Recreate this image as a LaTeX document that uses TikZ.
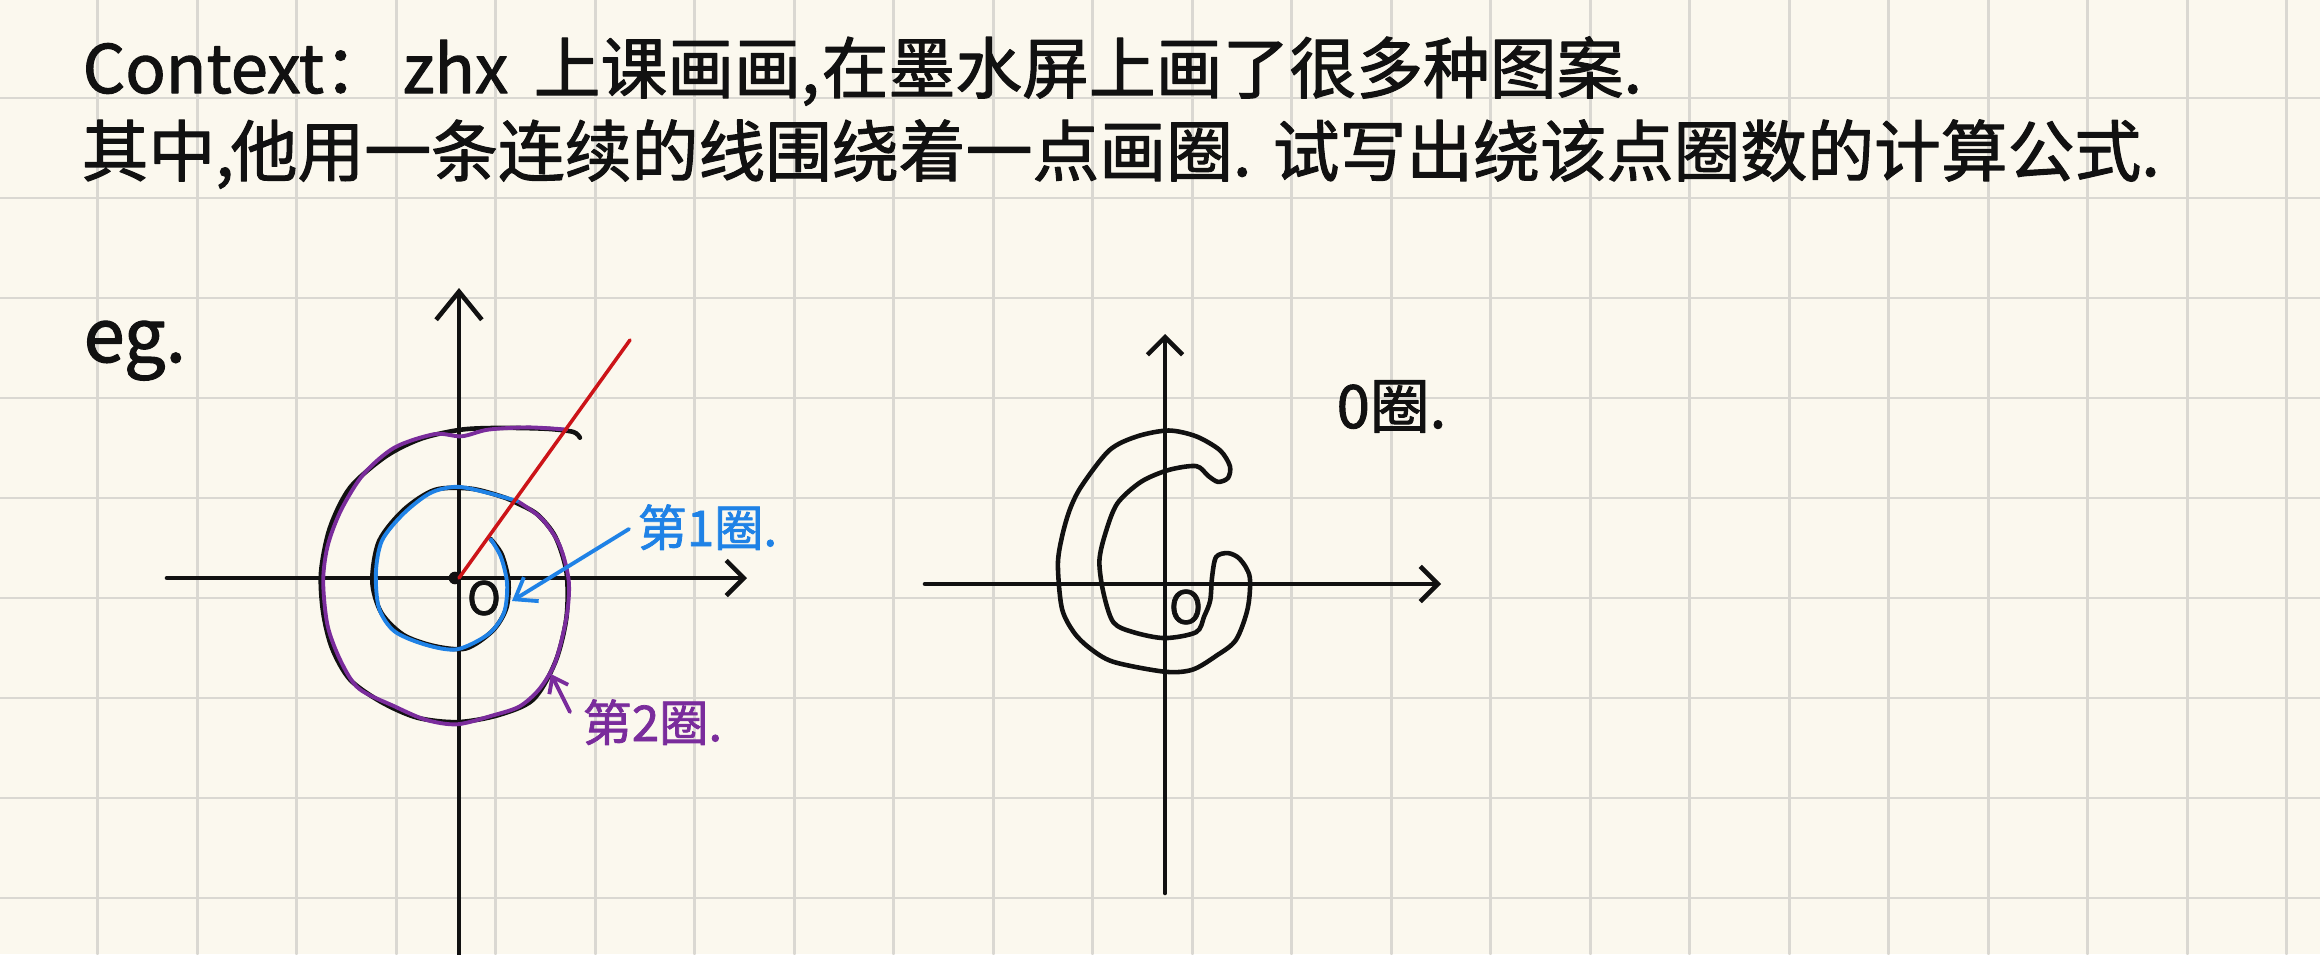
\documentclass[tikz,border=0pt]{standalone}
\usepackage{fontspec}
\usepackage{tikz}
\usetikzlibrary{arrows.meta}
\newfontfamily\cjk{Noto Sans CJK SC}[FakeBold=1.6]
\definecolor{paper}{HTML}{FBF8EE}
\definecolor{gridc}{HTML}{DAD8D2}
\definecolor{ink}{HTML}{111111}
\definecolor{inkred}{HTML}{CC1418}
\definecolor{inkblue}{HTML}{1F82E6}
\definecolor{inkpurple}{HTML}{7A2C9C}

\begin{document}
\begin{tikzpicture}[x=0.01cm, y=-0.01cm, line cap=round, line join=round,
	gridline/.style = {draw=gridc, line width=0.8pt},
	line/.style = {font=\cjk\fontsize{19}{19}\selectfont, text=ink, anchor=base west, inner sep=0pt},
	tag/.style = {font=\cjk\fontsize{14}{14}\selectfont, anchor=base west, inner sep=0pt},
	axisline/.style = {draw=ink, line width=1.3pt, -{Straight Barb[length=5pt,width=10pt]}},
	curve/.style = {draw=ink, line width=1.3pt},
	pen/.style = {line width=1.1pt}]
	% paper and grid
	\fill[paper] (0,0) rectangle (2320,954);
	\useasboundingbox (0,0) rectangle (2320,954);
	\foreach \gx in {0,...,22}
		\draw[gridline] ({97.8+99.5*\gx},0) -- ++(0,954);
	\foreach \gy in {0,...,8}
		\draw[gridline] (0,{98+100*\gy}) -- ++(2320,0);

	% text
	\node[line] (ctx) at (82,93) {Context：};
	\node[line] (zhx) at (402,93) {zhx};
	\node[line] (l1a) at (533,93) {上课画画,};
	\node[line] (l1b) at (821,93) {在墨水屏上画了很多种图案.};
	\node[line] (l2a) at (81,176) {其中,};
	\node[line] (l2b) at (230,176) {他用一条连续的线围绕着一点画圈.};
	\node[line] (l2c) at (1272,176) {试写出绕该点圈数的计算公式.};
	\node[line, font=\cjk\fontsize{21}{21}\selectfont] (eg) at (83,362) {eg.};

	% left axes
	\coordinate (O1) at (459,578);
	\coordinate (x1l) at (167,578);
	\coordinate (x1r) at (747,578);
	\coordinate (y1b) at (459,954);
	\coordinate (y1t) at (459,288);
	\draw[axisline] (x1l) -- (x1r);
	\draw[axisline, -{Straight Barb[length=8pt,width=13pt]}] (y1b) -- (y1t);
	\fill[ink] (455,578) circle[radius=1.8pt];
	\node[font=\cjk\fontsize{13}{13}\selectfont, text=ink, inner sep=0pt] (o1) at (484,598) {O};

	% spiral, two turns
	\draw[curve] plot[smooth] coordinates {(490.6,539.0) (501.8,554.6) (508.5,581.4) (506.3,608.2) (492.9,630.5) (466.1,648.4) (434.8,646.2) (403.6,635.0) (381.3,612.7) (372.3,581.4) (379.0,541.3) (403.6,510.0) (434.8,489.9) (470.5,488.6) (501.8,496.6) (517.4,503.3) (537.5,514.5) (555.4,536.8) (566.5,572.5) (566.5,617.1) (555.4,661.8) (533.0,699.7) (497.3,715.4) (457.1,722.1) (417.0,717.6) (381.3,702.0) (350.0,679.6) (332.1,648.4) (323.2,612.7) (321.0,572.5) (329.9,527.9) (350.0,487.7) (385.7,456.4) (421.4,438.6) (461.6,429.6) (501.8,427.9) (546.4,428.8) (573.2,431.9) (579.9,437.7)};
	\draw[pen, inkpurple] plot[smooth] coordinates {(517.4,501.1) (542.0,518.9) (559.8,545.7) (568.8,581.4) (566.5,617.1) (555.4,661.8) (539.7,688.6) (519.6,706.4) (492.9,715.4) (457.1,724.3) (425.9,719.8) (394.6,706.4) (358.9,688.6) (341.1,661.8) (327.7,626.1) (323.2,581.4) (327.7,545.7) (341.1,510.0) (363.4,474.3) (394.6,447.5) (434.8,434.1) (461.6,436.3) (488.4,429.6) (528.6,427.4) (566.5,429.6)};
	\draw[pen, inkblue] plot[smooth] coordinates {(490.6,539.0) (500.9,556.9) (507.1,583.7) (504.0,612.7) (488.4,634.1) (457.1,649.3) (425.9,644.8) (394.6,631.4) (379.0,608.2) (375.9,572.5) (382.1,540.4) (403.6,513.6) (430.4,493.0) (457.1,486.8) (488.4,493.0) (517.4,501.1)};
	\coordinate (r1) at (630,340);
	\draw[inkred, line width=1pt] (O1) -- (r1);

	% turn labels
	\node[tag, text=inkblue] (lab1) at (637,546) {第1圈.};
	\node[tag, text=inkpurple] (lab2) at (582,741) {第2圈.};
	\coordinate (b1s) at (629,529);
	\coordinate (b1e) at (512,601);
	\draw[pen, inkblue, -{Straight Barb[length=5.5pt,width=8pt]}] (b1s) -- (b1e);
	\coordinate (p2s) at (570,712);
	\coordinate (p2e) at (551,674);
	\draw[pen, inkpurple, -{Straight Barb[length=4pt,width=6pt]}] (p2s) -- (p2e);

	% right axes
	\coordinate (x2l) at (925,584);
	\coordinate (x2r) at (1441,584);
	\coordinate (y2b) at (1165,893);
	\coordinate (y2t) at (1165,334);
	\draw[axisline] (x2l) -- (x2r);
	\draw[axisline] (y2b) -- (y2t);
	\node[font=\cjk\fontsize{13}{13}\selectfont, text=ink, inner sep=0pt] (o2) at (1186,607) {O};

	% closed C-shaped loop
	\draw[curve] plot[smooth cycle] coordinates {(1229.9,466.1) (1220.0,450.3) (1196.3,436.4) (1168.6,430.5) (1137.0,436.4) (1109.3,450.3) (1081.7,485.8) (1069.8,509.6) (1061.9,537.2) (1057.9,564.9) (1061.9,608.4) (1073.7,632.1) (1089.6,648.0) (1113.3,661.8) (1164.7,671.7) (1192.4,669.7) (1216.1,655.9) (1235.9,640.0) (1247.7,608.4) (1249.7,576.8) (1239.8,559.0) (1228.0,553.1) (1216.1,557.0) (1212.1,576.8) (1210.2,600.5) (1204.2,616.3) (1196.3,632.1) (1164.7,638.1) (1133.1,632.1) (1113.3,622.2) (1103.4,592.6) (1099.4,561.0) (1105.4,533.3) (1117.2,503.6) (1140.9,481.9) (1168.6,470.0) (1196.3,466.1) (1208.2,475.9) (1218.1,481.9) (1228.0,477.9)};
	\node[line, font=\cjk\fontsize{17}{17}\selectfont] (lab0) at (1336,428) {0圈.};
\end{tikzpicture}
\end{document}
